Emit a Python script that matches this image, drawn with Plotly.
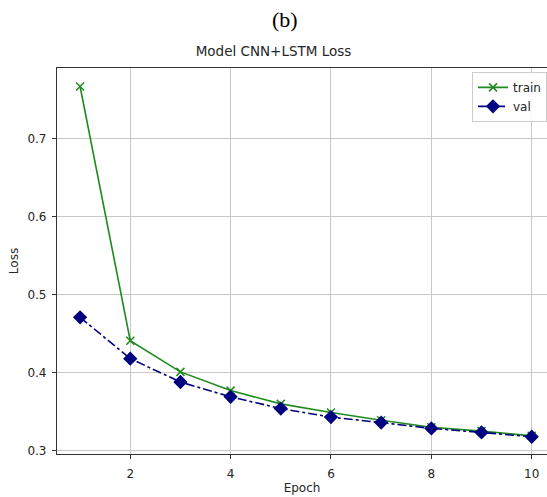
import plotly.graph_objects as go

epochs = [1, 2, 3, 4, 5, 6, 7, 8, 9, 10]
train_loss = [0.767, 0.441, 0.401, 0.377, 0.360, 0.349, 0.339, 0.330, 0.325, 0.319]
val_loss = [0.471, 0.418, 0.388, 0.369, 0.354, 0.343, 0.336, 0.3285, 0.3234, 0.3178]
x_ticks = [2, 4, 6, 8, 10]
y_ticks = [0.3, 0.4, 0.5, 0.6, 0.7]

W, H = 547, 497
ML, MR, MT, MB = 57, 0, 68, 43

fig = go.Figure()
fig.add_trace(go.Scatter(
    x=epochs, y=train_loss, name="train", mode="lines+markers",
    line=dict(color="#1f8a1f", width=1.6),
    marker=dict(symbol="x-thin", size=8, line=dict(color="#1f8a1f", width=1.5)),
))
fig.add_trace(go.Scatter(
    x=epochs, y=val_loss, name="val", mode="lines+markers",
    line=dict(color="#000080", width=1.6, dash="dashdot"),
    marker=dict(symbol="diamond", size=11, color="#000080"),
))

font_main = "DejaVu Sans, Liberation Sans, sans-serif"

fig.update_layout(
    width=W, height=H,
    margin=dict(l=ML, r=MR, t=MT, b=MB),
    paper_bgcolor="white", plot_bgcolor="white",
    font=dict(family=font_main, size=12, color="#262626"),
    showlegend=True,
    legend=dict(
        x=1.0, xanchor="right", y=0.99, yanchor="top",
        bgcolor="rgba(255,255,255,0.9)", bordercolor="#cccccc", borderwidth=1,
        font=dict(size=12, color="#262626"), tracegroupgap=0,
    ),
    title=dict(text="Model CNN+LSTM Loss", x=0.5, xanchor="center",
               y=1 - 51 / H, yanchor="middle",
               font=dict(family=font_main, size=13.5, color="#262626")),
    annotations=[dict(
        text="(b)", xref="paper", yref="paper",
        x=(285 - ML) / (W - ML - MR), y=1 + (MT - 19) / (H - MT - MB),
        xanchor="center", yanchor="middle", showarrow=False,
        font=dict(family="Liberation Serif, Times New Roman, serif", size=22, color="black"),
    )],
)

fig.update_xaxes(
    range=[0.54, 10.305], tickvals=x_ticks, ticktext=[str(v) for v in x_ticks],
    showgrid=True, gridcolor="#c8c8c8", gridwidth=1,
    showline=True, linecolor="#333333", linewidth=1.2, mirror=True,
    ticks="outside", ticklen=4, tickcolor="#333333", ticklabelstandoff=4,
    zeroline=False,
    title=dict(text="Epoch", standoff=4, font=dict(size=12)),
)
fig.update_yaxes(
    range=[0.2957, 0.7907], tickvals=y_ticks, ticktext=[f"{v:.1f}" for v in y_ticks],
    showgrid=True, gridcolor="#c8c8c8", gridwidth=1,
    showline=True, linecolor="#333333", linewidth=1.2, mirror=False,
    ticks="outside", ticklen=4, tickcolor="#333333", ticklabelstandoff=3,
    zeroline=False,
    title=dict(text="Loss", standoff=6, font=dict(size=12)),
)

fig.write_html(
    "out.html",
    config={"displayModeBar": False},
    post_script="document.body.style.margin='0';document.body.style.overflow='hidden';",
)
